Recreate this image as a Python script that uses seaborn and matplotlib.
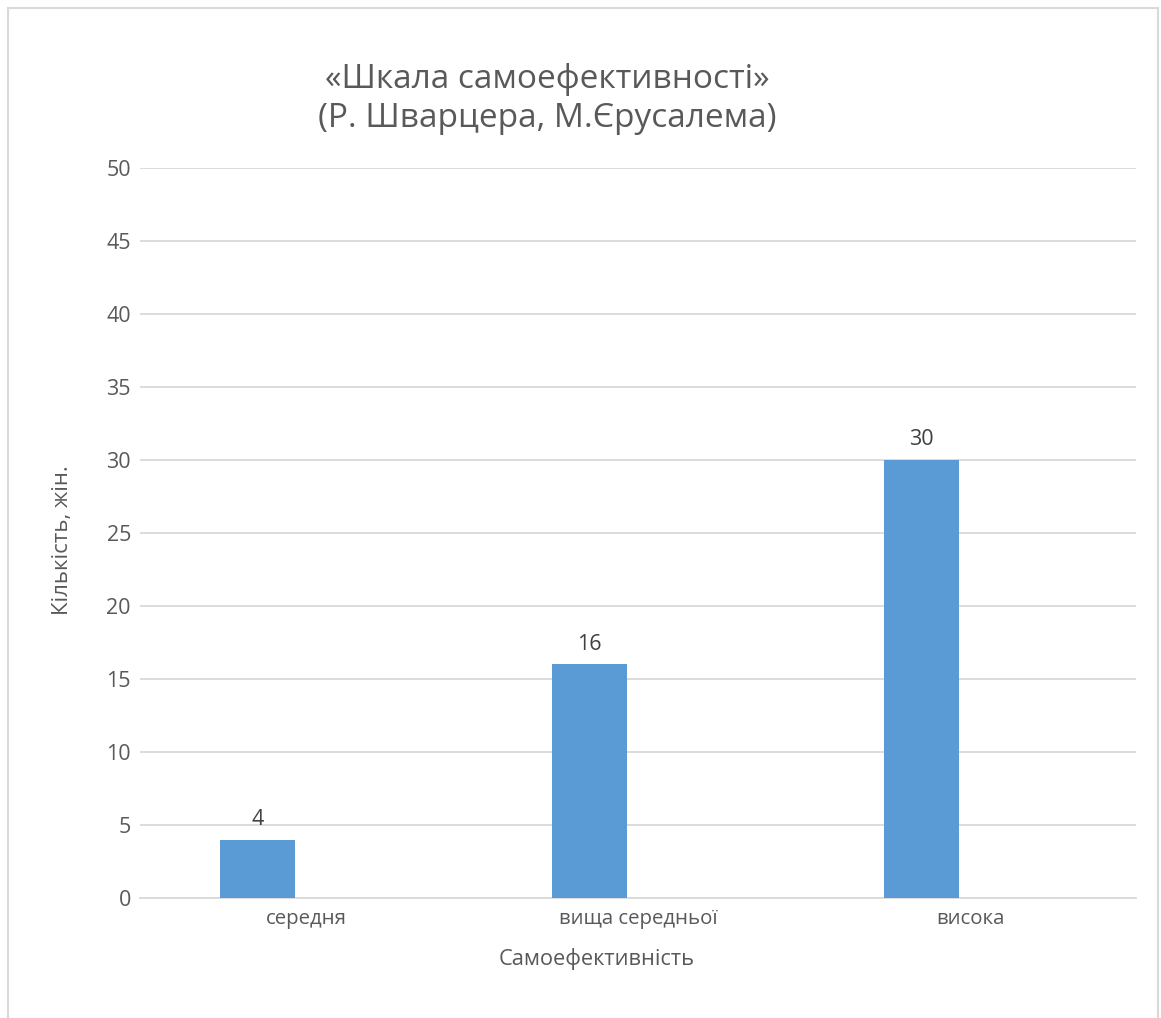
import matplotlib
matplotlib.use("Agg")
import matplotlib.pyplot as plt
import seaborn as sns
import pandas as pd
import numpy as np
from matplotlib.patches import Rectangle

# Self-efficacy levels and number of women in each group
categories = ["середня", "вища середньої", "висока"]
counts = [4, 16, 30]
y_ticks = [0, 5, 10, 15, 20, 25, 30, 35, 40, 45, 50]

title_text = "«Шкала самоефективності»\n(Р. Шварцера, М.Єрусалема)"
x_label = "Самоефективність"
y_label = "Кількість, жін."

sns.set_theme(style="white")
plt.rcParams["font.family"] = ["Open Sans", "DejaVu Sans"]

text_gray = "#595959"
label_gray = "#404040"
grid_gray = "#d9d9d9"
bar_blue = "#5B9BD5"

fig = plt.figure(figsize=(11.61, 10.18), dpi=100)
ax = fig.add_axes([0.1206, 0.1179, 0.8579, 0.7171])

# bars sit left of each category centre (second, empty series slot on the right)
bar_shift = -0.146
df = pd.DataFrame({
    "pos": np.arange(len(categories)) + bar_shift,
    "count": counts,
})
sns.barplot(data=df, x="pos", y="count", native_scale=True, width=0.226,
            color=bar_blue, saturation=1, ax=ax, zorder=3)
for p in ax.patches:
    p.set_edgecolor("none")

ax.bar_label(ax.containers[0], labels=[str(v) for v in counts], padding=7,
             fontsize=15.5, color=label_gray)

ax.set_xlim(-0.5, len(categories) - 0.5)
ax.set_ylim(0, 50)
ax.set_xticks(range(len(categories)))
ax.set_xticklabels(categories)
ax.set_yticks(y_ticks)
ax.set_yticklabels([str(t) for t in y_ticks])
ax.tick_params(axis="x", length=0, labelsize=14.7, colors=text_gray, pad=8)
ax.tick_params(axis="y", length=0, labelsize=15.5, colors=text_gray, pad=6.5)

ax.yaxis.grid(True, color=grid_gray, linewidth=1.3, zorder=0)
ax.set_axisbelow(True)
for s in ["top", "right", "left"]:
    ax.spines[s].set_visible(False)
ax.spines["bottom"].set_color(grid_gray)
ax.spines["bottom"].set_linewidth(1.3)

ax.set_xlabel(x_label, fontsize=15.7, color=text_gray)
ax.xaxis.set_label_coords(0.458, -0.068)
ax.set_ylabel(y_label, fontsize=16, color=text_gray)
ax.yaxis.set_label_coords(-0.067, 0.49)

fig.text(0.471, 0.903, title_text, ha="center", va="center", fontsize=24,
         color=text_gray, linespacing=1.25)

# chart area border
fig.patches.append(Rectangle((8 / 1161, -0.05), 1150 / 1161, 1.05 - 8 / 1018,
                             transform=fig.transFigure, fill=False,
                             edgecolor=grid_gray, linewidth=1.5))

fig.savefig("out.png", dpi=100, facecolor="white")
